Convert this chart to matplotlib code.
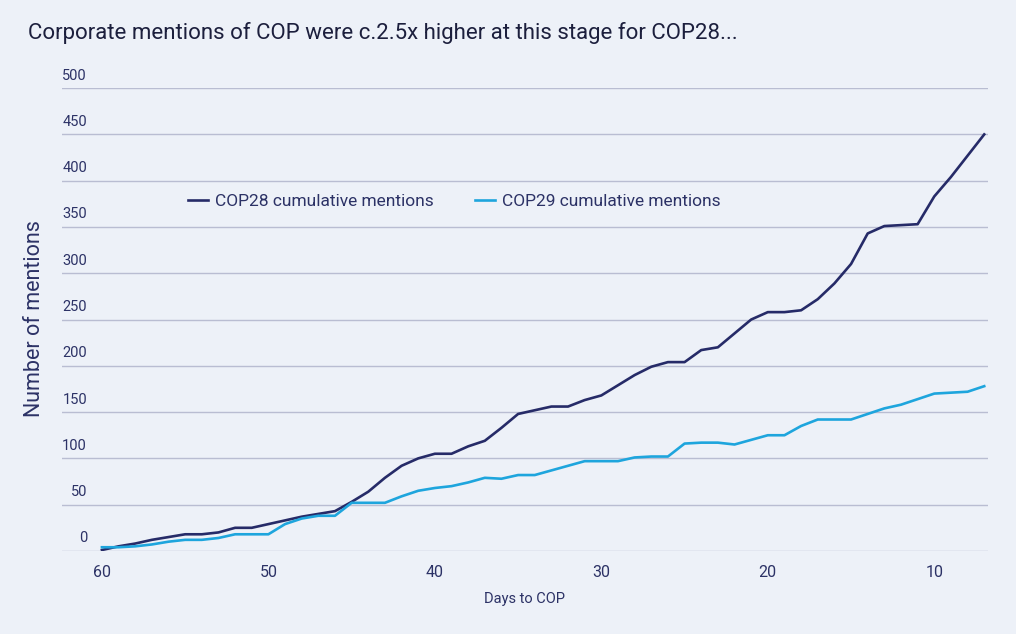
import numpy as np
import matplotlib.pyplot as plt
from matplotlib.transforms import ScaledTranslation

plt.rcParams['font.family'] = ['Roboto', 'DejaVu Sans']

# days before COP, counting down from 60 to 7
days = list(range(60, 6, -1))

cop28 = [1, 5, 8, 12, 15, 18, 18, 20, 25, 25,
         29, 33, 37, 40, 43, 53, 64, 79, 92, 100,
         105, 105, 113, 119, 133, 148, 152, 156, 156, 163,
         168, 179, 190, 199, 204, 204, 217, 220, 235, 250,
         258, 258, 260, 272, 289, 310, 343, 351, 352, 353,
         383, 404, 427, 450]

cop29 = [4, 4, 5, 7, 10, 12, 12, 14, 18, 18,
         18, 29, 35, 38, 38, 52, 52, 52, 59, 65,
         68, 70, 74, 79, 78, 82, 82, 87, 92, 97,
         97, 97, 101, 102, 102, 116, 117, 117, 115, 120,
         125, 125, 135, 142, 142, 142, 148, 154, 158, 164,
         170, 171, 172, 178]

x_ticks = [60, 50, 40, 30, 20, 10]
y_ticks = [0, 50, 100, 150, 200, 250, 300, 350, 400, 450, 500]

bg = '#edf1f8'
navy = '#262b68'
light = '#1ea5dd'
text_col = '#2c3266'
grid_col = '#b9bdd2'

fig = plt.figure(figsize=(10.16, 6.34), dpi=100, facecolor=bg)
ax = fig.add_axes([0.061, 0.131, 0.911, 0.730], facecolor=bg)

ax.plot(days, cop28, color=navy, lw=1.9, label='COP28 cumulative mentions')
ax.plot(days, cop29, color=light, lw=1.9, label='COP29 cumulative mentions')

ax.set_xlim(62.4, 6.8)
ax.set_ylim(0, 500)
ax.set_xticks(x_ticks)
ax.set_yticks(y_ticks)
ax.yaxis.grid(True, color=grid_col, lw=1)
ax.set_axisbelow(True)
for s in ax.spines.values():
    s.set_visible(False)
ax.tick_params(axis='both', length=0, colors=text_col)
ax.tick_params(axis='x', labelsize=11.5, pad=10)
ax.tick_params(axis='y', labelsize=10.5, pad=0)

# y labels sit just above their gridlines
shift = ScaledTranslation(25 / 100, 14 / 100, fig.dpi_scale_trans)
for lab in ax.get_yticklabels():
    lab.set_transform(lab.get_transform() + shift)

ax.set_xlabel('Days to COP', fontsize=10.5, color=text_col, labelpad=9)
ax.set_ylabel('Number of mentions', fontsize=15.5, color=text_col)
ax.yaxis.set_label_coords(-0.018, 0.503)

ax.legend(loc='center', bbox_to_anchor=(0.424, 0.756), ncol=2, frameon=False,
          fontsize=12.5, labelcolor=text_col, handlelength=1.15,
          handletextpad=0.4, columnspacing=2.4)

fig.text(0.028, 0.948, 'Corporate mentions of COP were c.2.5x higher at this stage for COP28...',
         fontsize=16, color='#1c1f3d', va='center')

fig.savefig('out.png', dpi=100, facecolor=bg)
